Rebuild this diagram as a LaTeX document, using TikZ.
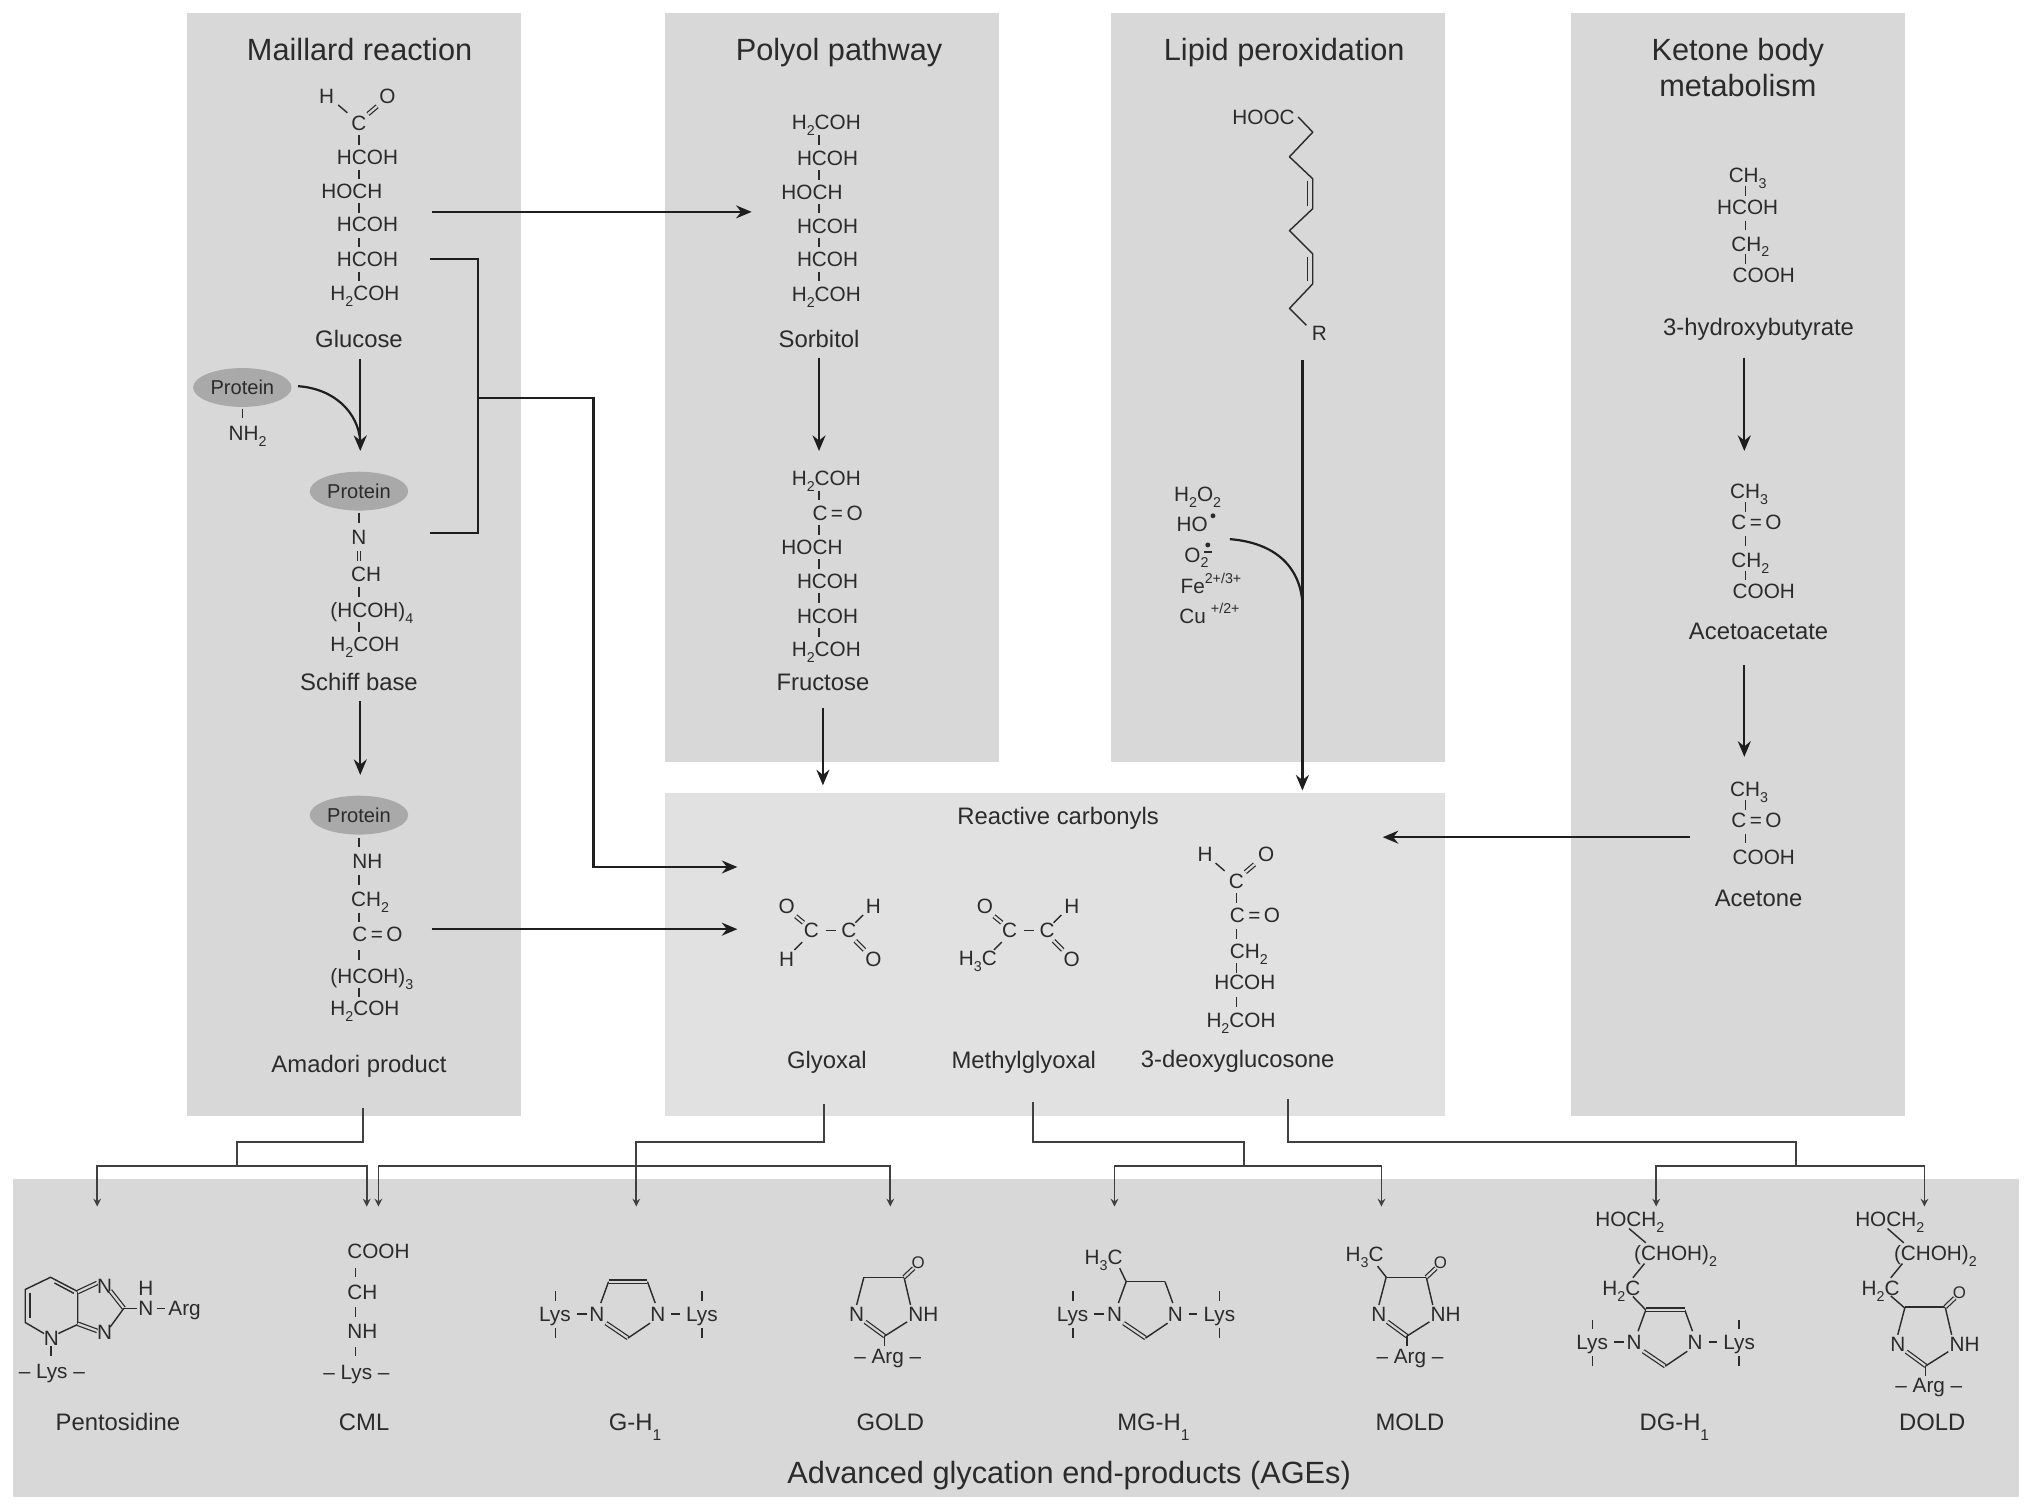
\documentclass[tikz,border=0pt]{standalone}
\usepackage{fontspec}
\setmainfont{Liberation Sans}
\usetikzlibrary{arrows.meta,shapes.geometric}
\definecolor{ink}{HTML}{2B2B2B}
\definecolor{wire}{HTML}{1E1E1E}
\definecolor{panelc}{HTML}{D8D8D8}
\definecolor{panell}{HTML}{E1E1E1}
\definecolor{protc}{HTML}{A9A9A9}
\newcounter{tn}
\newcommand\sbs[1]{\raisebox{-.28em}{\fontsize{11}{11}\selectfont #1}}
\newcommand\lsb[1]{\raisebox{-.42em}{\fontsize{12}{12}\selectfont #1}}
\newcommand\sps[1]{\raisebox{.48em}{\fontsize{11}{11}\selectfont #1}}
\newcommand\chemL[3]{\stepcounter{tn}\node[chem,anchor=base west] (t\arabic{tn}) at (#1,#2) {#3};}
\newcommand\chemC[3]{\stepcounter{tn}\node[chem,anchor=base] (t\arabic{tn}) at (#1,#2) {#3};}
\newcommand\vb[2]{\draw[bond] (#1,#2-3.7) -- (#1,#2+3.7);}
\newcommand\vbs[2]{\foreach \yy in {#2} {\vb{#1}{\yy}}}
\newcommand\imid[3]{%
  \begin{scope}[shift={(#1,#2)}]
  \chemC{-24}{0}{N}\chemC{23}{0}{N}
  \chemC{-56.4}{0}{Lys}\chemC{57}{0}{Lys}
  \draw[bond] (-15,-25) -- (-21,-8.5);
  \draw[bond] (15,-25) -- (21,-8.5);
  \draw[#3] (-15,-25) -- (15,-25);
  \draw[dbl,double=panelc] (-17,7) -- (0,18.5);
  \draw[bond] (0,18.5) -- (17,7);
  \draw[bond] (-56,-17.5) -- (-56,-10);
  \draw[bond] (-56,11) -- (-56,18.5);
  \draw[bond] (57,-17.5) -- (57,-10);
  \draw[bond] (57,11) -- (57,18.5);
  \draw[bond] (-39.5,0) -- (-32,0);
  \draw[bond] (33.5,0) -- (40,0);
  \end{scope}}
\newcommand\oldring[2]{%
  \begin{scope}[shift={(#1,#2)}]
  \chemC{-21.6}{0}{N}\chemL{18.4}{0}{NH}
  \node[chem,font=\fontsize{13}{13}\selectfont,anchor=base,yshift=1pt] (t\arabic{tn}o) at (25.9,-40) {O};
  \draw[bond] (-16,-28.4) -- (-21.6,-7);
  \draw[bond] (15,-28.4) -- (20,-7);
  \draw[bond] (-16,-28.4) -- (15,-28.4);
  \draw[dbl,double=panelc] (15,-28.4) -- (22.4,-35.4);
  \draw[dbl,double=panelc] (-15,6) -- (0,17);
  \draw[bond] (0,17) -- (17.4,6);
  \draw[bond] (0,17) -- (0,24.6);
  \chemC{2.4}{32}{– Arg –}
  \end{scope}}
\tikzset{
  x=1pt,y=-1pt,
  panel/.style={inner sep=0pt,outer sep=0pt,draw=none,fill=panelc},
  chem/.style={inner sep=0pt,outer sep=0pt,text=ink,font=\fontsize{16}{16}\selectfont,yshift=-5.8pt},
  lab/.style={inner sep=0pt,outer sep=0pt,text=ink,anchor=base,yshift=-6.5pt,font=\fontsize{18.4}{20}\selectfont},
  ttl/.style={inner sep=0pt,outer sep=0pt,text=ink,anchor=base,yshift=-8.4pt,font=\fontsize{23.7}{28}\selectfont},
  prot/.style={ellipse,fill=protc,draw=none,inner sep=0pt,minimum width=76pt,minimum height=30pt,text=ink,font=\fontsize{15.5}{16}\selectfont},
  bond/.style={draw=ink,line width=1.1pt},
  dbl/.style={draw=ink,line width=.95pt,double distance=1.7pt},
  topd/.style={dbl,double=panelc},
  tops/.style={bond},
  arr/.style={draw=wire,line width=1.7pt,-{Stealth[length=12pt,width=10pt]}},
  wireline/.style={draw=wire,line width=1.7pt,line cap=rect},
  tree/.style={draw=wire!85!white,line width=1.4pt},
  tarr/.style={draw=wire!85!white,line width=1.4pt,-{Stealth[length=6pt,width=6pt]}},
}
\begin{document}
\begin{tikzpicture}
\useasboundingbox (0,0) rectangle (1568,1164.4);
% panels
\node[panel,minimum width=258pt,minimum height=851pt] (maillard) at (273,435.5) {};
\node[panel,minimum width=258pt,minimum height=578pt] (polyol) at (642,299) {};
\node[panel,minimum width=258pt,minimum height=578pt] (lipid) at (986,299) {};
\node[panel,minimum width=258pt,minimum height=851pt] (ketone) at (1341,435.5) {};
\node[panel,fill=panell,minimum width=602pt,minimum height=249pt] (reactive) at (814,736.5) {};
\node[panel,minimum width=1548pt,minimum height=245pt] (ages) at (784,1032.5) {};
% titles
\node[ttl] (tMaillard) at (277.5,38) {Maillard reaction};
\node[ttl] (tPolyol) at (647.5,38) {Polyol pathway};
\node[ttl] (tLipid) at (991,38) {Lipid peroxidation};
\node[ttl] (tKetone1) at (1341,38) {Ketone body};
\node[ttl] (tKetone2) at (1341,66) {metabolism};
\node[ttl] (tAges) at (825,1136) {Advanced glycation end-products (AGEs)};
\node[lab] (tReactive) at (816.5,630) {Reactive carbonyls};
% Glucose
\chemC{252}{74}{H}\chemC{299}{74}{O}\chemC{277}{95}{C}
\draw[bond] (261,81) -- (268,87);
\draw[dbl,double=panelc] (284,88) -- (291,82);
\vbs{277}{108,134.5,160.5,187,213.5}
\chemL{260}{121}{HCOH}\chemL{248}{147}{HOCH}\chemL{260}{173}{HCOH}\chemL{260}{200}{HCOH}
\chemL{255}{226}{H\sbs{2}COH}
\node[lab] (glucose) at (277,262) {Glucose};
% Protein NH2
\node[prot] (prot1) at (187,299) {Protein};
\vb{187}{319}
\chemC{191}{334}{NH\sbs{2}}
% Schiff base
\node[prot] (prot2) at (277,379) {Protein};
\vb{277}{399.5}
\chemC{277}{414}{N}
\draw[dbl,double=panelc] (277,425) -- (277,433);
\chemL{271}{443}{CH}
\chemL{255}{471}{(HCOH)\sbs{4}}
\chemL{255}{497}{H\sbs{2}COH}
\vbs{277}{457,484}
\node[lab] (schiff) at (277,526) {Schiff base};
% Amadori
\node[prot] (prot3) at (277,629) {Protein};
\vbs{277}{650,679,708,737,766}
\chemL{272}{664}{NH}
\chemL{271}{694}{CH\sbs{2}}
\chemL{272}{721}{C\,=\,O}
\chemL{255}{753}{(HCOH)\sbs{3}}
\chemL{255}{778}{H\sbs{2}COH}
\node[lab] (amadori) at (277,821) {Amadori product};
% Sorbitol
\chemL{611}{94}{H\sbs{2}COH}\chemL{615}{122}{HCOH}\chemL{603}{148}{HOCH}
\chemL{615}{174}{HCOH}\chemL{615}{200}{HCOH}\chemL{611}{227}{H\sbs{2}COH}
\vbs{632}{108,135,161,187,213.5}
\node[lab] (sorbitol) at (632,262) {Sorbitol};
% Fructose
\chemL{611}{369}{H\sbs{2}COH}\chemL{627}{396}{C\,=\,O}\chemL{603}{422}{HOCH}
\chemL{615}{448}{HCOH}\chemL{615}{475}{HCOH}\chemL{611}{501}{H\sbs{2}COH}
\vbs{632}{382.5,409,435,461.5,488}
\node[lab] (fructose) at (635,526) {Fructose};
% Lipid
\chemL{951}{90}{HOOC}
\draw[bond,line join=round] (1001.7,90.2) -- (1013,102) -- (995,121) -- (1013,138) -- (1013,161) -- (995,178) -- (1013,196) -- (1013,219) -- (995,238) -- (1008,251);
\draw[bond] (1009,140) -- (1009,159);
\draw[bond] (1009,198) -- (1009,217);
\chemC{1018}{257}{R}
\chemL{906}{381}{H\sbs{2}O\sbs{2}}
\chemL{908}{404}{HO}
\fill[ink] (936,398) circle (1.9pt);
\chemL{914}{428}{O\sbs{2}}
\fill[ink] (932,420.5) circle (1.9pt);
\draw[bond] (929,426) -- (935,426);
\chemL{911}{452}{Fe\sps{2+/3+}}
\chemL{910}{475}{Cu\hspace{4pt}\sps{+/2+}}
% Ketone
\chemL{1334}{135}{CH\sbs{3}}\chemL{1325}{160}{HCOH}\chemL{1336}{188}{CH\sbs{2}}\chemL{1337}{212}{COOH}
\vbs{1347}{147.5,174,200}
\node[lab] (hydroxy) at (1357,252) {3-hydroxybutyrate};
\chemL{1335}{379}{CH\sbs{3}}\chemL{1336}{403}{C\,=\,O}\chemL{1336}{432}{CH\sbs{2}}\chemL{1337}{456}{COOH}
\vbs{1347}{391,417.5,444}
\node[lab] (acetoacetate) at (1357,487) {Acetoacetate};
\chemL{1335}{609}{CH\sbs{3}}\chemL{1336}{633}{C\,=\,O}\chemL{1337}{661}{COOH}
\vbs{1347}{621,647}
\node[lab] (acetone) at (1357,693) {Acetone};
% Glyoxal
\chemC{607}{699}{O}\chemC{674}{699}{H}\chemC{626}{718}{C}\chemC{655}{718}{C}\chemC{607}{740}{H}\chemC{674}{740}{O}
\draw[bond] (637,718) -- (645,718);
\draw[dbl,double=panell] (614,707) -- (620,712);
\draw[bond] (666,706) -- (660,712);
\draw[bond] (613,733) -- (619,727);
\draw[dbl,double=panell] (660,726) -- (667,733);
\node[lab] (glyoxal) at (638,818) {Glyoxal};
% Methylglyoxal
\chemC{760}{699}{O}\chemC{827}{699}{H}\chemC{779}{718}{C}\chemC{808}{718}{C}\chemL{740}{739}{H\sbs{3}C}\chemC{827}{740}{O}
\draw[bond] (790,718) -- (798,718);
\draw[dbl,double=panell] (767,707) -- (773,712);
\draw[bond] (819,706) -- (813,712);
\draw[bond] (767,733) -- (773,727);
\draw[dbl,double=panell] (813,726) -- (820,733);
\node[lab] (mgo) at (790,818) {Methylglyoxal};
% 3-deoxyglucosone
\chemC{930}{659}{H}\chemC{977}{659}{O}\chemC{954}{680}{C}
\draw[bond] (938,666) -- (945,672);
\draw[dbl,double=panell] (961,673) -- (968,667);
\chemL{949}{706}{C\,=\,O}\chemL{949}{734}{CH\sbs{2}}\chemL{937}{758}{HCOH}\chemL{931}{787}{H\sbs{2}COH}
\vbs{954}{693,720.5,747,773}
\node[lab] (deoxy) at (955,817) {3-deoxyglucosone};
% Pentosidine
\chemC{39.7}{1032.6}{N}\chemC{80.8}{992}{N}\chemC{80.8}{1027.5}{N}\chemC{112.6}{994}{H}\chemC{112.6}{1009.5}{N}\chemL{130}{1009.5}{Arg}
\draw[bond,line join=round] (34,1029) -- (19.5,1020.5) -- (19.5,995) -- (39,985.6) -- (60,996.6) -- (60,1022) -- (45,1029);
\draw[bond] (23,1017) -- (23,998);
\draw[bond] (42,990) -- (57,998);
\draw[dbl,double=panelc] (60,997) -- (75,990);
\draw[dbl,double=panelc] (60,1021.5) -- (75,1027);
\draw[dbl,double=panelc] (85,996) -- (95.6,1009.5);
\draw[bond] (95.6,1009.5) -- (85,1024);
\draw[bond] (95.6,1009.5) -- (106,1009.5);
\draw[bond] (121,1009.5) -- (127,1009.5);
\draw[bond] (39.5,1039) -- (39.5,1046);
\chemC{40}{1058}{– Lys –}
\node[lab] (pentosidine) at (91,1097) {Pentosidine};
% CML
\chemL{268}{965}{COOH}\chemL{268}{997}{CH}\chemL{268}{1027}{NH}
\vbs{274.5}{982,1012.5,1043}
\chemC{275}{1059}{– Lys –}
\node[lab] (cml) at (281,1097) {CML};
% G-H1
\imid{484.6}{1014}{topd}
\node[lab] (gh) at (490,1097) {G-H\lsb{1}};
% GOLD
\oldring{682.6}{1014}
\node[lab] (gold) at (687,1097) {GOLD};
% MG-H1
\imid{884}{1014}{tops}
\chemL{837}{970}{H\sbs{3}C}
\draw[bond] (864,978.6) -- (869,989);
\node[lab] (mgh) at (890,1097) {MG-H\lsb{1}};
% MOLD
\oldring{1085.6}{1014}
\chemL{1038.4}{968}{H\sbs{3}C}
\draw[bond] (1063,977) -- (1069.7,985.6);
\node[lab] (mold) at (1088,1097) {MOLD};
% DG-H1
\imid{1285}{1035.7}{topd}
\chemL{1231}{941}{HOCH\sbs{2}}
\chemL{1261}{967}{(CHOH)\sbs{2}}
\chemL{1236.5}{994}{H\sbs{2}C}
\draw[bond] (1257,948) -- (1270,959);
\draw[bond] (1269,975) -- (1260,986);
\draw[bond] (1260,1000.5) -- (1270,1010.8);
\node[lab] (dgh) at (1292,1097) {DG-H\lsb{1}};
% DOLD
\oldring{1486}{1037}
\chemL{1431.6}{941}{HOCH\sbs{2}}
\chemL{1461.5}{967}{(CHOH)\sbs{2}}
\chemL{1436.6}{994}{H\sbs{2}C}
\draw[bond] (1456.5,948) -- (1469,959);
\draw[bond] (1468,975) -- (1459,986);
\draw[bond] (1459,1000) -- (1470,1009.5);
\node[lab] (dold) at (1491,1097) {DOLD};
% named connector ends
\coordinate (gluA) at (333,163.5);
\coordinate (sorIn) at (580,163.5);
\coordinate (gluB) at (333,200);
\coordinate (schOut) at (333,411);
\coordinate (brk) at (369,307);
\coordinate (rcA) at (569,669);
\coordinate (amaOut) at (333,717);
\coordinate (rcB) at (569,717);
\coordinate (lipTop) at (1005,278);
\coordinate (lipJoin) at (1005,465);
\coordinate (roxOut) at (949,416);
\coordinate (protOut) at (230,298);
\coordinate (gluJoin) at (278,340);
\coordinate (aceOut) at (1304,646);
\coordinate (rcC) at (1067,646);
\coordinate (kHy) at (1346,276);
\coordinate (kAcIn) at (1346,348);
\coordinate (kAc) at (1346,513);
\coordinate (kAtIn) at (1346,584);
\coordinate (sorOut) at (632,276);
\coordinate (fruIn) at (632,348);
% main arrows
\draw[arr] (gluA) -- (sorIn);
\draw[wireline] (gluB) -| (brk |- schOut) -- (schOut);
\draw[arr] (brk) -| (458,669) -- (rcA);
\draw[arr] (amaOut) -- (rcB);
\draw[arr,shorten <=15pt,shorten >=31pt] (glucose.center -| gluJoin) -- (prot2.center -| gluJoin);
\draw[wireline,line cap=butt] (protOut) .. controls (258,300) and (276,318) .. (gluJoin);
\draw[arr,shorten <=15pt,shorten >=31pt] (schiff.center -| gluJoin) -- (prot3.center -| gluJoin);
\draw[arr] (sorOut) -- (fruIn);
\draw[arr,shorten <=20pt,shorten >=6pt] (fructose.center) -- (fructose.center |- reactive.north);
\draw[arr,shorten >=2pt] (lipTop) -- (lipTop |- reactive.north);
\draw[wireline,line cap=butt] (roxOut) .. controls (985,419) and (1003,438) .. (lipJoin);
\draw[arr] (kHy) -- (kAcIn);
\draw[arr] (kAc) -- (kAtIn);
\draw[arr] (aceOut) -- (rcC);
% tree connectors
\coordinate (tA) at (280,855);
\coordinate (tB) at (636,852);
\coordinate (tC) at (797,850);
\coordinate (tD) at (994,848);
\draw[tree] (tA) |- (183,881) -- (183,900);
\draw[tarr] (183,900) -| (75,931);
\draw[tarr] (183,900) -| (283,931);
\draw[tree] (tB) |- (491,881) -- (491,900);
\draw[tarr] (491,881) -- (491,931);
\draw[tarr] (491,900) -| (292,931);
\draw[tarr] (491,900) -| (687,931);
\draw[tree] (tC) |- (960,881) -- (960,900);
\draw[tarr] (960,900) -| (860,931);
\draw[tarr] (960,900) -| (1066,931);
\draw[tree] (tD) |- (1386,881) -- (1386,900);
\draw[tarr] (1386,900) -| (1278,931);
\draw[tarr] (1386,900) -| (1485,931);
\end{tikzpicture}
\end{document}
